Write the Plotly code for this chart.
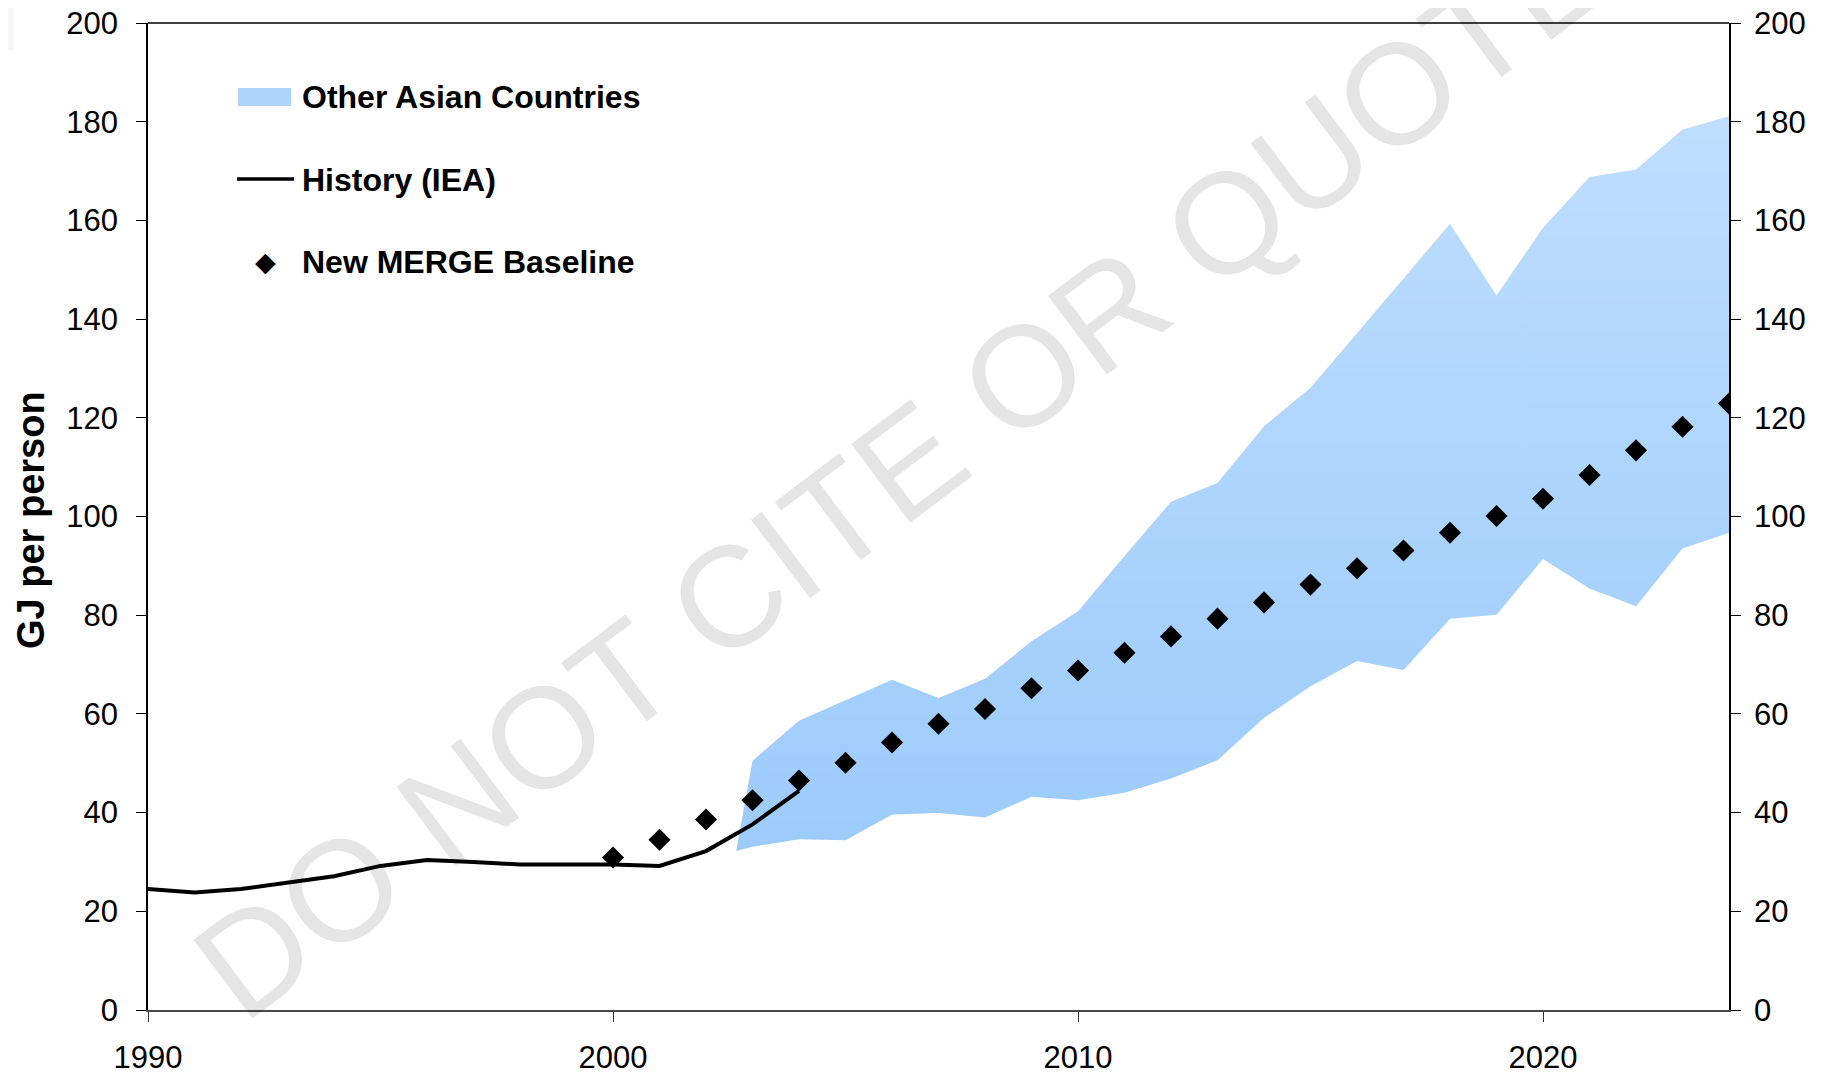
import plotly.graph_objects as go

# ---------------- data ----------------
hist_years = list(range(1990, 2005))
hist_values = [24.5, 23.8, 24.5, 25.9, 27.1, 29.2, 30.4, 30.0, 29.5, 29.5,
               29.5, 29.2, 32.2, 37.6, 44.4]

merge_years = list(range(2000, 2025))
merge_values = [30.9, 34.5, 38.6, 42.5, 46.5, 50.1, 54.2, 58.0, 61.0, 65.2,
                68.8, 72.4, 75.7, 79.3, 82.6, 86.2, 89.5, 93.1, 96.7, 100.1,
                103.6, 108.4, 113.4, 118.2, 122.9]

band_years = [2002.65] + list(range(2003, 2025))
band_low = [32.2, 33.1, 34.6, 34.4, 39.6, 39.9, 39.0, 43.2, 42.5, 44.0,
            46.9, 50.6, 59.2, 65.6, 70.7, 68.9, 79.3, 80.1, 91.4, 85.4,
            81.8, 93.5, 96.7]
band_high = [32.2, 50.5, 58.6, 62.7, 66.9, 63.2, 67.1, 74.7, 80.8, 92.0,
             103.0, 106.8, 118.3, 126.1, 137.2, 148.2, 159.3, 144.8, 158.5,
             168.8, 170.3, 178.4, 181.1]

x_ticks = [1990, 2000, 2010, 2020]
y_ticks = list(range(0, 201, 20))

legend_labels = ["Other Asian Countries", "History (IEA)", "New MERGE Baseline"]
y_title = "GJ per person"
watermark = "DO NOT CITE OR QUOTE"

FONT = "Liberation Sans, Arial, Helvetica, sans-serif"

# ---------------- figure ----------------
fig = go.Figure()

poly_x = band_years + band_years[::-1]
poly_y = band_high + band_low[::-1]
fig.add_trace(go.Scatter(
    x=poly_x, y=poly_y, mode="lines", fill="toself",
    line=dict(width=0, color="rgba(0,0,0,0)"),
    fillgradient=dict(type="vertical",
                      colorscale=[[0, "#9ccbfb"], [1, "#bedefd"]]),
    hoverinfo="skip", showlegend=False))

fig.add_trace(go.Scatter(
    x=hist_years, y=hist_values, mode="lines",
    line=dict(color="black", width=4), showlegend=False))

fig.add_trace(go.Scatter(
    x=merge_years, y=merge_values, mode="markers",
    marker=dict(symbol="diamond", size=17, color="black"),
    showlegend=False))

# invisible trace to activate the right axis
fig.add_trace(go.Scatter(x=[1990], y=[0], yaxis="y2", mode="markers",
                         marker=dict(opacity=0), showlegend=False,
                         hoverinfo="skip"))

# page body has an 8px margin: figure is drawn offset by 8px
OFF = 8
W, H = 1826 - 2 * OFF, 1074 - OFF
# target plot area in window pixels: x 148..1729, y 23..1010
L = 148 - OFF
R = W - (1729 - OFF)
T = 23 - OFF
B = H - (1010 - OFF)
PW, PH = W - L - R, H - T - B


def px(xa):
    return (xa - OFF - L) / PW


def py(ya):
    return (H - B - (ya - OFF)) / PH


fig.update_layout(
    width=W, height=H,
    margin=dict(l=L, r=R, t=T, b=B, autoexpand=False),
    paper_bgcolor="white", plot_bgcolor="white",
    font=dict(family=FONT, size=31, color="black"),
    xaxis=dict(range=[1990, 2024], tickvals=x_ticks, ticktext=[str(v) for v in x_ticks],
               showgrid=False, zeroline=False, showline=True,
               linecolor="#4a4a4a", linewidth=2,
               ticks="outside", ticklen=10, tickwidth=1, tickcolor="#333",
               ticklabelstandoff=9, ticklabeloverflow="allow",
               tickfont=dict(size=31), automargin=False),
    yaxis=dict(range=[0, 200], tickvals=y_ticks, showgrid=False, zeroline=False,
               showline=True, linecolor="black", linewidth=1.5,
               ticks="outside", ticklen=10, tickwidth=1, tickcolor="black",
               ticklabelstandoff=12, ticklabeloverflow="allow",
               tickfont=dict(size=31), automargin=False),
    yaxis2=dict(range=[0, 200], tickvals=y_ticks, overlaying="y", side="right",
                showgrid=False, zeroline=False, showline=True,
                linecolor="black", linewidth=1.5,
                ticks="outside", ticklen=10, tickwidth=1, tickcolor="black",
                ticklabelstandoff=7, ticklabeloverflow="allow",
                tickfont=dict(size=31), automargin=False),
    showlegend=False,
)

shapes = []
shapes.append(dict(type="line", xref="paper", yref="paper", x0=0, x1=1, y0=1, y1=1,
                   line=dict(color="black", width=1.5)))
shapes.append(dict(type="rect", xref="paper", yref="paper",
                   x0=px(8), x1=px(14), y0=py(50), y1=py(8),
                   fillcolor="#f4f4f9", line=dict(width=0), layer="below"))
shapes.append(dict(type="rect", xref="paper", yref="paper",
                   x0=px(238), x1=px(291), y0=py(106), y1=py(88),
                   fillcolor="#acd4fc", line=dict(width=0)))
shapes.append(dict(type="line", xref="paper", yref="paper",
                   x0=px(237), x1=px(294), y0=py(179), y1=py(179),
                   line=dict(color="black", width=3.5)))
fig.update_layout(shapes=shapes)

ann = []
ann.append(dict(text="◆", xref="paper", yref="paper", x=px(265), y=py(262),
                showarrow=False, xanchor="center", yanchor="middle",
                font=dict(size=27, color="black", family="DejaVu Sans")))
for lbl, yy in zip(legend_labels, [97, 180, 262]):
    ann.append(dict(text="<b>%s</b>" % lbl, xref="paper", yref="paper",
                    x=px(300), y=py(yy), showarrow=False,
                    xanchor="left", yanchor="middle",
                    font=dict(size=32, color="black", family=FONT)))
ann.append(dict(text="<b>%s</b>" % y_title, xref="paper", yref="paper",
                x=px(31), y=py(520), textangle=-90, showarrow=False,
                xanchor="center", yanchor="middle",
                font=dict(size=38, color="black", family=FONT)))
ann.append(dict(text=watermark, xref="paper", yref="paper",
                x=px(900), y=py(468), textangle=-37, showarrow=False,
                xanchor="center", yanchor="middle",
                font=dict(size=143, color="rgba(0,0,0,0.1)", family=FONT)))
fig.update_layout(annotations=ann)

fig.write_html("out.html")
